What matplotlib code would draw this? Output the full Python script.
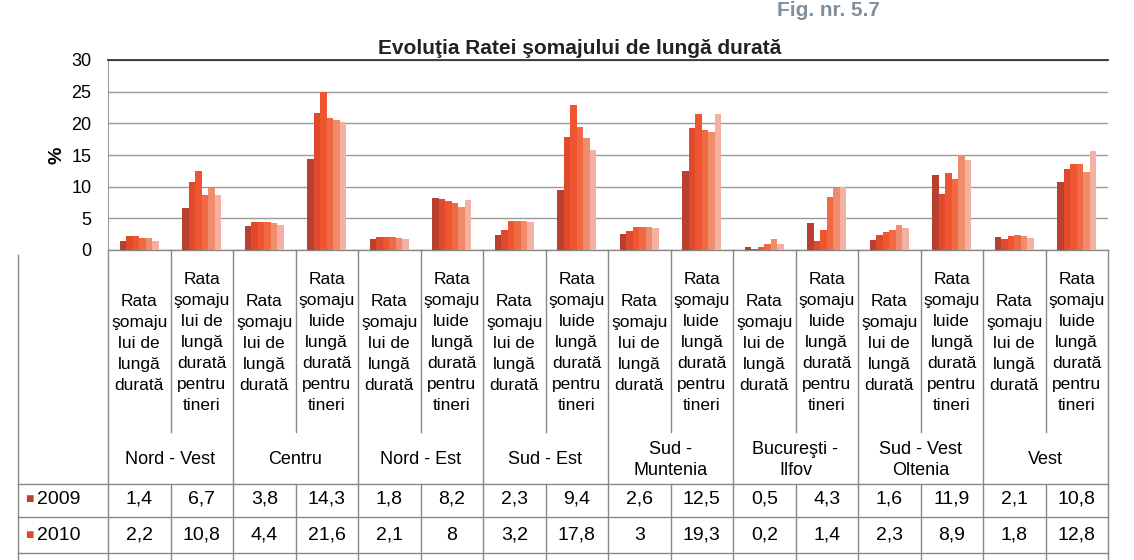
import numpy as np
import matplotlib.pyplot as plt
import matplotlib.transforms as mtransforms
from matplotlib.lines import Line2D

plt.rcParams['font.family'] = ['Liberation Sans', 'DejaVu Sans']

# 16 columns: two indicators for each of the 8 regions
regions = ['Nord - Vest', 'Centru', 'Nord - Est', 'Sud - Est', 'Sud -\nMuntenia',
           'Bucureşti -\nIlfov', 'Sud - Vest\nOltenia', 'Vest']
cat_rata = 'Rata\nşomaju\nlui de\nlungă\ndurată'
cat_tineri = 'Rata\nşomaju\nluide\nlungă\ndurată\npentru\ntineri'
cat_tineri_nv = 'Rata\nşomaju\nlui de\nlungă\ndurată\npentru\ntineri'
categories = [cat_rata, cat_tineri_nv] + [cat_rata, cat_tineri] * 7

years = ['2009', '2010', '2011', '2012', '2013', '2014']
v2009 = [1.4, 6.7, 3.8, 14.3, 1.8, 8.2, 2.3, 9.4, 2.6, 12.5, 0.5, 4.3, 1.6, 11.9, 2.1, 10.8]
v2010 = [2.2, 10.8, 4.4, 21.6, 2.1, 8, 3.2, 17.8, 3, 19.3, 0.2, 1.4, 2.3, 8.9, 1.8, 12.8]
v2011 = [2.2, 12.5, 4.5, 25.0, 2.0, 7.8, 4.6, 22.9, 3.6, 21.4, 0.5, 3.2, 2.9, 12.2, 2.2, 13.6]
v2012 = [1.9, 8.7, 4.4, 20.8, 2.0, 7.4, 4.6, 19.4, 3.6, 18.9, 1.0, 8.3, 3.1, 11.2, 2.3, 13.6]
v2013 = [1.9, 9.8, 4.3, 20.6, 1.9, 6.8, 4.6, 17.7, 3.6, 18.6, 1.8, 9.8, 3.9, 15.0, 2.2, 12.3]
v2014 = [1.5, 8.7, 4.0, 20.2, 1.7, 7.9, 4.5, 15.8, 3.4, 21.4, 0.9, 10.0, 3.5, 14.2, 1.9, 15.6]
series = [v2009, v2010, v2011, v2012, v2013, v2014]
colors = ['#b8402f', '#e0492b', '#ee5530', '#ef6a42', '#f08b6c', '#f4b1a2']

W, H = 1134, 560
fig = plt.figure(figsize=(W / 100, H / 100), dpi=100)
ax = fig.add_axes([108 / W, 1 - 250 / H, 1000 / W, 190 / H])

def fy(py):
    return 1 - py / H

x = np.arange(len(categories))
bw = 0.105
for i, vals in enumerate(series):
    ax.bar(x + (i - 2.5) * bw, vals, bw, color=colors[i], zorder=3)

ax.set_xlim(-0.5, len(categories) - 0.5)
ax.set_ylim(0, 30)
ax.set_yticks(range(0, 31, 5))
ax.set_xticks([])
ax.tick_params(axis='y', length=0, labelsize=13, pad=12)
ax.grid(axis='y', color='#9a9a9a', lw=1)
for s in ['right', 'bottom']:
    ax.spines[s].set_visible(False)
ax.spines['top'].set_color('#333333')
ax.spines['top'].set_linewidth(1.3)
ax.spines['left'].set_color('#9a9a9a')
ax.set_ylabel('%', fontsize=14, fontweight='bold', labelpad=4)

# title and figure number
fig.text(580 / W, fy(48), 'Evoluţia Ratei şomajului de lungă durată', ha='center',
         va='center', fontsize=15, fontweight='bold', color='#222222')
fig.text(880 / W, fy(11), 'Fig. nr. 5.7', ha='right', va='center', fontsize=15,
         fontweight='bold', color='#7f8f9c')

# table under the chart
tr = mtransforms.blended_transform_factory(ax.transData, fig.transFigure)
lc = '#888888'
x_left = ax.transData.inverted().transform((18, 0))[0]

def hline(py, x0, x1):
    ax.add_line(Line2D([x0, x1], [fy(py), fy(py)], transform=tr, color=lc, lw=1, clip_on=False))

def vline(xd, py0, py1):
    ax.add_line(Line2D([xd, xd], [fy(py0), fy(py1)], transform=tr, color=lc, lw=1, clip_on=False))

hline(250, -0.5, 15.5)
for py in [484, 517, 553]:
    hline(py, x_left, 15.5)
vline(x_left, 255, 560)
vline(-0.5, 250, 560)
vline(15.5, 250, 560)
for k in range(1, 16):
    bottom = 484 if k % 2 == 0 else 432
    vline(k - 0.5, 250, bottom)
    vline(k - 0.5, 484, 560)

for j, lab in enumerate(categories):
    ax.text(j, fy(343), lab, transform=tr, ha='center', va='center', fontsize=12.5,
            linespacing=1.5)

for g, reg in enumerate(regions):
    ax.text(2 * g + 0.5, fy(460), reg, transform=tr, ha='center', va='center',
            fontsize=13, linespacing=1.35)

row_y = [499, 535]
for r, vals in enumerate([v2009, v2010]):
    ax.text(x_left + 0.12, fy(row_y[r]), '■', transform=tr, ha='left', va='center',
            fontsize=10, color=colors[r])
    ax.text(x_left + 0.3, fy(row_y[r]), years[r], transform=tr, ha='left', va='center',
            fontsize=14)
    for j, v in enumerate(vals):
        ax.text(j, fy(row_y[r]), f'{v:g}'.replace('.', ','), transform=tr, ha='center',
                va='center', fontsize=14)

fig.savefig('out.png', dpi=100)
